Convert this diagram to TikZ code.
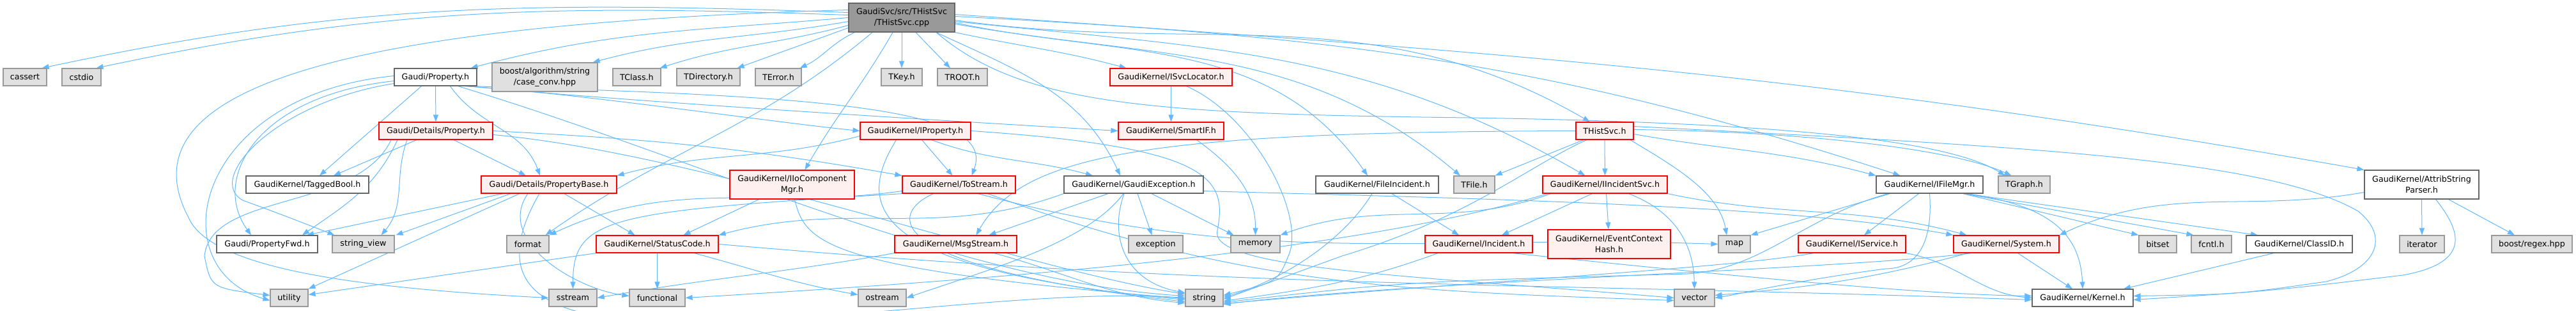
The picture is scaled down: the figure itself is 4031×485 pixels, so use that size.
\documentclass[tikz,border=0pt]{standalone}
\usepackage{fontspec}
\setmainfont{DejaVu Sans}
\usetikzlibrary{arrows.meta}
\pgfdeclarelayer{bg}
\pgfsetlayers{bg,main}
\definecolor{edgec}{HTML}{63B8FF}
\definecolor{gfill}{HTML}{E0E0E0}
\definecolor{gdraw}{HTML}{999999}
\definecolor{wdraw}{HTML}{666666}
\definecolor{rfill}{HTML}{FFF0F0}
\definecolor{rdraw}{HTML}{FF0000}
\definecolor{tfill}{HTML}{999999}
\tikzset{
  nbase/.style={rectangle, line width=0.24pt, inner sep=0pt, minimum height=5.4pt,
    font=\fontsize{2.54}{3.4}\selectfont, align=center, text=black},
  bw/.style={minimum width=#1*0.2pt},
  tall/.style={minimum height=9pt},
  gnode/.style={nbase, fill=gfill, draw=gdraw},
  wnode/.style={nbase, fill=white, draw=wdraw},
  rnode/.style={nbase, fill=rfill, draw=rdraw},
  tnode/.style={nbase, fill=tfill, draw=wdraw},
  dep/.style={draw=edgec, line width=0.2pt, -{Triangle[length=2.2pt,width=1.6pt,fill=edgec]}},
}
\begin{document}
\begin{tikzpicture}[x=0.2pt,y=0.2pt]
\useasboundingbox (0,0) rectangle (4031,-485);
% row 1
\node[tnode, bw=166, tall] (top) at (1411,-27.5) {GaudiSvc/src/THistSvc\\/THistSvc.cpp};
% row 2
\node[gnode, bw=68] (cassert) at (39,-120.5) {cassert};
\node[gnode, bw=61] (cstdio) at (127.5,-120.5) {cstdio};
\node[wnode, bw=129] (prop) at (681.5,-120.5) {Gaudi/Property.h};
\node[gnode, bw=165, tall] (boostcase) at (852.5,-120.5) {boost/algorithm/string\\/case\_conv.hpp};
\node[gnode, bw=75] (tclass) at (996.5,-120.5) {TClass.h};
\node[gnode, bw=99] (tdir) at (1108.5,-120.5) {TDirectory.h};
\node[gnode, bw=72] (terror) at (1218,-120.5) {TError.h};
\node[gnode, bw=64] (tkey) at (1411,-120.5) {TKey.h};
\node[gnode, bw=78] (troot) at (1506,-120.5) {TROOT.h};
\node[rnode, bw=191] (isvc) at (1832.5,-120.5) {GaudiKernel/ISvcLocator.h};
% row 3
\node[rnode, bw=178] (detprop) at (682,-204.5) {Gaudi/Details/Property.h};
\node[rnode, bw=173] (iprop) at (1432.5,-204.5) {GaudiKernel/IProperty.h};
\node[rnode, bw=165] (smartif) at (1832.5,-204.5) {GaudiKernel/SmartIF.h};
\node[rnode, bw=90] (thistsvch) at (2511,-204.5) {THistSvc.h};
% row 4
\node[wnode, bw=192] (tagged) at (481,-288.5) {GaudiKernel/TaggedBool.h};
\node[rnode, bw=212] (propbase) at (859,-288.5) {Gaudi/Details/PropertyBase.h};
\node[rnode, bw=195, tall] (iiocomp) at (1239.5,-288.5) {GaudiKernel/IIoComponent\\Mgr.h};
\node[rnode, bw=177] (tostream) at (1500.5,-288.5) {GaudiKernel/ToStream.h};
\node[wnode, bw=218] (gexc) at (1774,-288.5) {GaudiKernel/GaudiException.h};
\node[wnode, bw=192] (fileinc) at (2155,-288.5) {GaudiKernel/FileIncident.h};
\node[gnode, bw=64] (tfile) at (2307,-288.5) {TFile.h};
\node[rnode, bw=195] (iincsvc) at (2511.5,-288.5) {GaudiKernel/IIncidentSvc.h};
\node[wnode, bw=167] (ifilemgr) at (3019.5,-288.5) {GaudiKernel/IFileMgr.h};
\node[gnode, bw=81] (tgraph) at (3167.5,-288.5) {TGraph.h};
\node[wnode, bw=179, tall] (attrib) at (3789.5,-288.5) {GaudiKernel/AttribString\\Parser.h};
% row 5
\node[wnode, bw=158] (propfwd) at (418,-381.5) {Gaudi/PropertyFwd.h};
\node[gnode, bw=97] (strview) at (568.5,-381.5) {string\_view};
\node[gnode, bw=66] (format) at (826,-381.5) {format};
\node[rnode, bw=191] (statuscode) at (1028.5,-381.5) {GaudiKernel/StatusCode.h};
\node[rnode, bw=191] (msgstream) at (1495.5,-381.5) {GaudiKernel/MsgStream.h};
\node[gnode, bw=85] (exception) at (1808.5,-381.5) {exception};
\node[gnode, bw=77] (memory) at (1964.5,-381.5) {memory};
\node[rnode, bw=168] (incident) at (2314,-381.5) {GaudiKernel/Incident.h};
\node[rnode, bw=192, tall] (evctx) at (2518,-381.5) {GaudiKernel/EventContext\\Hash.h};
\node[gnode, bw=50] (map) at (2714,-381.5) {map};
\node[rnode, bw=168] (iservice) at (2898,-381.5) {GaudiKernel/IService.h};
\node[rnode, bw=165] (system) at (3139.5,-381.5) {GaudiKernel/System.h};
\node[gnode, bw=59] (bitset) at (3376.5,-381.5) {bitset};
\node[gnode, bw=63] (fcntl) at (3460.5,-381.5) {fcntl.h};
\node[wnode, bw=166] (classid) at (3598,-381.5) {GaudiKernel/ClassID.h};
\node[gnode, bw=70] (iterator) at (3790,-381.5) {iterator};
\node[gnode, bw=126] (boostregex) at (3962,-381.5) {boost/regex.hpp};
% row 6
\node[gnode, bw=59] (utility) at (452.5,-465.5) {utility};
\node[gnode, bw=75] (sstream) at (896.5,-465.5) {sstream};
\node[gnode, bw=87] (functional) at (1028.5,-465.5) {functional};
\node[gnode, bw=75] (ostream) at (1380.5,-465.5) {ostream};
\node[gnode, bw=59] (string) at (1884.5,-465.5) {string};
\node[gnode, bw=63] (vector) at (2651.5,-465.5) {vector};
\node[wnode, bw=158] (kernel) at (3259,-465.5) {GaudiKernel/Kernel.h};

\begin{pgfonlayer}{bg}
% THistSvc.cpp
\draw[dep] ([shift={(0,8)}]top.west) to[out=178,in=12] ([shift={(-8,0)}]cassert.north east);
\draw[dep] ([shift={(0,4)}]top.west) to[out=178,in=12] ([shift={(-8,0)}]cstdio.north east);
\draw[dep] (top.west) to[out=185,in=15] ([shift={(-10,0)}]prop.north east);
\draw[dep] ([shift={(0,-6)}]top.west) to[out=190,in=15] ([shift={(-8,0)}]boostcase.north east);
\draw[dep] ([shift={(0,-12)}]top.west) to[out=195,in=18] ([shift={(-2,0)}]tclass.north east);
\draw[dep] ([shift={(0,-16)}]top.west) to[out=200,in=20] ([shift={(-5,0)}]tdir.north east);
\draw[dep] ([shift={(10,0)}]top.south west) to[out=205,in=25] ([shift={(-3,0)}]terror.north east);
\draw[dep] (top.south) -- (tkey.north);
\draw[dep] ([shift={(22,0)}]top.south) -- ([shift={(-19,0)}]troot.north);
\draw[dep] ([shift={(-14,0)}]top.south) to[out=-120,in=60] ([shift={(20,0)}]iiocomp.north);
\draw[dep] ([shift={(-46,0)}]top.south) to[out=-140,in=35] ([shift={(-6,0)}]format.north east);
\draw[dep] ([shift={(0,12)}]top.west) .. controls (450,-40) and (200,-160) .. (295,-340) .. controls (330,-420) and (560,-450) .. (sstream.west);
\draw[dep] (top.south east) to[out=-12,in=165] ([shift={(-70,0)}]isvc.north);
\draw[dep] ([shift={(54,0)}]top.south) to[out=-25,in=115] ([shift={(-21,0)}]gexc.north);
\draw[dep] ([shift={(54,0)}]top.south) .. controls (1600,-165) and (1800,-178) .. (2300,-184) .. controls (2800,-192) and (3050,-220) .. ([shift={(-30,0)}]tgraph.north);
\draw[dep] ([shift={(0,-4)}]top.east) to[out=-8,in=150] ([shift={(-23,0)}]thistsvch.north);
\draw[dep] ([shift={(0,-8)}]top.east) to[out=-12,in=125] ([shift={(-15,0)}]fileinc.north);
\draw[dep] ([shift={(0,-10)}]top.east) to[out=-10,in=140] ([shift={(-22,0)}]tfile.north);
\draw[dep] ([shift={(0,-6)}]top.east) to[out=-6,in=150] ([shift={(-31,0)}]iincsvc.north);
\draw[dep] ([shift={(0,2)}]top.east) to[out=-3,in=162] ([shift={(-46,0)}]ifilemgr.north);
\draw[dep] ([shift={(0,5)}]top.east) to[out=-4,in=170] (attrib.north west);
% Gaudi/Property.h
\draw[dep] (prop.south) -- (detprop.north);
\draw[dep] ([shift={(-22,0)}]prop.south) -- ([shift={(19,0)}]tagged.north);
\draw[dep] ([shift={(23,0)}]prop.south) to[out=-55,in=110] ([shift={(-14,0)}]propbase.north);
\draw[dep] ([shift={(0,-6)}]prop.west) .. controls (400,-150) and (330,-280) .. ([shift={(-25,0)}]propfwd.north);
\draw[dep] ([shift={(0,-10)}]prop.west) .. controls (430,-160) and (320,-280) .. (380,-313) .. controls (440,-335) .. ([shift={(-45,0)}]strview.north);
\draw[dep] ([shift={(0,2)}]prop.west) .. controls (300,-150) and (250,-420) .. ([shift={(0,-4)}]utility.west);
\draw[dep] ([shift={(-20,0)}]prop.south east) .. controls (900,-145) and (1200,-190) .. (iprop.west);
\draw[dep] ([shift={(-15,0)}]prop.south east) .. controls (1000,-160) and (1500,-190) .. (smartif.west);
\draw[dep] ([shift={(-10,0)}]prop.south east) .. controls (1300,-150) and (1560,-170) .. ([shift={(20,0)}]tostream.north);
\draw[dep] ([shift={(-30,0)}]prop.south east) .. controls (1100,-250) and (1500,-440) .. ([shift={(0,3)}]string.west);
% Gaudi/Details/Property.h
\draw[dep] ([shift={(-30,0)}]detprop.south) -- ([shift={(41,0)}]tagged.north);
\draw[dep] ([shift={(28,0)}]detprop.south) -- ([shift={(-36,0)}]propbase.north);
\draw[dep] ([shift={(-60,0)}]detprop.south) to[out=-115,in=35] ([shift={(55,0)}]propfwd.north);
\draw[dep] ([shift={(-45,0)}]detprop.south) to[out=-110,in=50] ([shift={(28,0)}]strview.north);
\draw[dep] ([shift={(-70,0)}]detprop.south) .. controls (560,-330) and (330,-300) .. (320,-400) .. controls (330,-450) .. ([shift={(0,4)}]utility.west);
\draw[dep] (detprop.east) to[out=-3,in=170] (tostream.north west);
\draw[dep] ([shift={(0,-6)}]detprop.east) .. controls (1100,-240) and (1600,-420) .. ([shift={(0,6)}]string.west);
% PropertyBase
\draw[dep] ([shift={(-72,0)}]propbase.south) -- ([shift={(62,0)}]propfwd.north);
\draw[dep] ([shift={(-60,0)}]propbase.south) -- ([shift={(51,0)}]strview.north);
\draw[dep] ([shift={(24,0)}]propbase.south) -- ([shift={(-35,0)}]statuscode.north);
\draw[dep] ([shift={(-46,0)}]propbase.south) -- (utility.north east);
\draw[dep] ([shift={(-33,0)}]propbase.south) to[out=-125,in=172] ([shift={(0,3)}]functional.west);
\draw[dep] ([shift={(-15,0)}]propbase.south) to[out=-120,in=176] (string.west);
% IProperty
\draw[dep] ([shift={(10,0)}]iprop.south) -- ([shift={(-10,0)}]tostream.north);
\draw[dep] ([shift={(-30,0)}]iprop.south) .. controls (1340,-320) and (1350,-420) .. ([shift={(0,-3)}]string.west);
\draw[dep] ([shift={(0,-8)}]iprop.west) to[out=195,in=15] (propbase.north east);
\draw[dep] ([shift={(25,0)}]iprop.south) to[out=-20,in=165] ([shift={(-64,0)}]gexc.north);
\draw[dep] (iprop.east) .. controls (1900,-230) and (1920,-280) .. (1905,-360) .. controls (1890,-420) and (2200,-430) .. (vector.west);
% ToStream
\draw[dep] ([shift={(0,-10)}]tostream.west) to[out=188,in=25] (format.north east);
\draw[dep] ([shift={(-40,0)}]tostream.south) .. controls (1380,-340) and (1400,-420) .. ([shift={(0,-6)}]string.west);
\draw[dep] (tostream.south west) .. controls (950,-330) and (897,-340) .. (sstream.north);
\draw[dep] ([shift={(30,0)}]tostream.south) to[out=-15,in=178] (map.west);
\draw[dep] ([shift={(45,0)}]tostream.south) to[out=-20,in=178] ([shift={(0,-4)}]vector.west);
% MsgStream
\draw[dep] (msgstream.south west) to[out=190,in=10] (sstream.east);
\draw[dep] ([shift={(60,0)}]msgstream.south) to[out=-15,in=175] ([shift={(0,-8)}]string.west);
% GaudiException
\draw[dep] ([shift={(6,0)}]gexc.south) -- ([shift={(-6,0)}]exception.north);
\draw[dep] ([shift={(28,0)}]gexc.south) -- ([shift={(-34,0)}]memory.north);
\draw[dep] ([shift={(-15,0)}]gexc.south) .. controls (1735,-370) and (1760,-440) .. ([shift={(0,8)}]string.west);
\draw[dep] (gexc.south west) to[out=200,in=15] (statuscode.north east);
\draw[dep] ([shift={(-40,0)}]gexc.south) -- ([shift={(52,0)}]msgstream.north);
\draw[dep] ([shift={(-16,0)}]gexc.south) .. controls (1700,-380) and (1550,-420) .. (ostream.east);
\draw[dep] ([shift={(0,-10)}]gexc.east) .. controls (2300,-310) and (2800,-320) .. (system.north west);
% SmartIF / ISvcLocator
\draw[dep] ([shift={(40,0)}]smartif.south) .. controls (1930,-260) and (1965,-300) .. (memory.north);
\draw[dep] (isvc.south) -- (smartif.north);
\draw[dep] ([shift={(24,0)}]isvc.south) .. controls (1960,-180) and (2040,-330) .. (2018,-395) .. controls (2000,-440) .. ([shift={(0,4)}]string.east);
% IIoComponentMgr
\draw[dep] ([shift={(-52,0)}]iiocomp.south) -- ([shift={(41,0)}]statuscode.north);
\draw[dep] ([shift={(4,0)}]iiocomp.south) .. controls (1260,-380) and (1290,-420) .. ([shift={(0,-1)}]string.west);
% THistSvc.h
\draw[dep] (thistsvch.south) -- (iincsvc.north);
\draw[dep] ([shift={(-33,0)}]thistsvch.south) -- (tfile.north east);
\draw[dep] (thistsvch.west) .. controls (1800,-206) and (1600,-240) .. ([shift={(32,0)}]msgstream.north);
\draw[dep] ([shift={(0,-5)}]thistsvch.east) to[out=-10,in=165] (ifilemgr.north west);
\draw[dep] ([shift={(0,2)}]thistsvch.east) .. controls (2800,-205) and (3050,-230) .. ([shift={(-20,0)}]tgraph.north);
\draw[dep] ([shift={(0,7)}]thistsvch.east) .. controls (3200,-230) and (3550,-250) .. (3690,-330) .. controls (3740,-370) and (3720,-420) .. (3640,-440) .. controls (3500,-460) .. ([shift={(0,3)}]kernel.east);
\draw[dep] ([shift={(40,0)}]thistsvch.south) .. controls (2620,-260) and (2690,-300) .. ([shift={(-12,0)}]map.north);
\draw[dep] ([shift={(-28,0)}]thistsvch.south) .. controls (2390,-260) and (2300,-340) .. (2100,-400) .. controls (1990,-440) .. ([shift={(0,-2)}]string.east);
% IIncidentSvc
\draw[dep] ([shift={(-20,0)}]iincsvc.south) -- ([shift={(36,0)}]incident.north);
\draw[dep] ([shift={(2,0)}]iincsvc.south) -- ([shift={(-1,0)}]evctx.north);
\draw[dep] ([shift={(37,0)}]iincsvc.south) .. controls (2620,-330) and (2650,-380) .. (vector.north);
\draw[dep] ([shift={(-85,0)}]iincsvc.south) to[out=-160,in=20] (memory.north east);
\draw[dep] ([shift={(-90,0)}]iincsvc.south) .. controls (2100,-400) and (1500,-440) .. (functional.east);
\draw[dep] (iincsvc.south east) to[out=-12,in=165] ([shift={(-62,0)}]system.north);
% FileIncident / Incident
\draw[dep] ([shift={(23,0)}]fileinc.south) -- ([shift={(-31,0)}]incident.north);
\draw[dep] ([shift={(-8,0)}]fileinc.south) .. controls (2100,-380) and (2000,-440) .. ([shift={(0,1)}]string.east);
\draw[dep] ([shift={(-64,0)}]incident.south) to[out=-160,in=8] ([shift={(0,-5)}]string.east);
\draw[dep] ([shift={(53,0)}]incident.south) .. controls (2700,-430) and (3000,-460) .. ([shift={(0,3)}]kernel.west);
% IFileMgr
\draw[dep] ([shift={(-62,0)}]ifilemgr.south) -- (map.north east);
\draw[dep] ([shift={(-17,0)}]ifilemgr.south) -- ([shift={(19,0)}]iservice.north);
\draw[dep] ([shift={(-65,0)}]ifilemgr.south) .. controls (2820,-340) and (2760,-420) .. (2640,-428) .. controls (2200,-440) .. ([shift={(0,-7)}]string.east);
\draw[dep] (ifilemgr.south) .. controls (3025,-380) and (3000,-420) .. (2950,-420) .. controls (2800,-440) and (2720,-460) .. (vector.east);
\draw[dep] ([shift={(52,0)}]ifilemgr.south) -- (bitset.north west);
\draw[dep] ([shift={(54,0)}]ifilemgr.south) -- ([shift={(-28,0)}]fcntl.north);
\draw[dep] ([shift={(56,0)}]ifilemgr.south) -- ([shift={(-65,0)}]classid.north);
\draw[dep] ([shift={(58,0)}]ifilemgr.south) .. controls (3200,-320) and (3255,-360) .. (kernel.north);
% IService / System / ClassID
\draw[dep] ([shift={(-60,0)}]iservice.south) .. controls (2700,-420) and (2300,-440) .. ([shift={(0,-9)}]string.east);
\draw[dep] (iservice.south east) to[out=-10,in=175] (kernel.west);
\draw[dep] ([shift={(18,0)}]system.south) -- ([shift={(-16,0)}]kernel.north);
\draw[dep] ([shift={(-55,0)}]system.south) .. controls (2900,-420) and (2200,-440) .. ([shift={(0,-10)}]string.east);
\draw[dep] ([shift={(-60,0)}]system.south) to[out=-165,in=5] ([shift={(0,4)}]vector.east);
\draw[dep] ([shift={(-40,0)}]classid.south) -- ([shift={(64,0)}]kernel.north);
% AttribStringParser
\draw[dep] (attrib.south) -- (iterator.north);
\draw[dep] ([shift={(42,0)}]attrib.south) -- ([shift={(-27,0)}]boostregex.north);
\draw[dep] ([shift={(22,0)}]attrib.south) .. controls (3850,-360) and (3870,-410) .. (3760,-430) .. controls (3550,-455) .. ([shift={(0,-3)}]kernel.east);
\draw[dep] ([shift={(0,-12)}]attrib.west) to[out=190,in=25] (system.north east);
% StatusCode
\draw[dep] (statuscode.south) -- (functional.north);
\draw[dep] (statuscode.south west) -- ([shift={(0,5)}]utility.east);
\draw[dep] ([shift={(58,0)}]statuscode.south) to[out=-15,in=170] ([shift={(0,5)}]ostream.west);
\draw[dep] (statuscode.east) to[out=-5,in=178] ([shift={(0,-3)}]kernel.west);
\end{pgfonlayer}
\end{tikzpicture}
\end{document}
